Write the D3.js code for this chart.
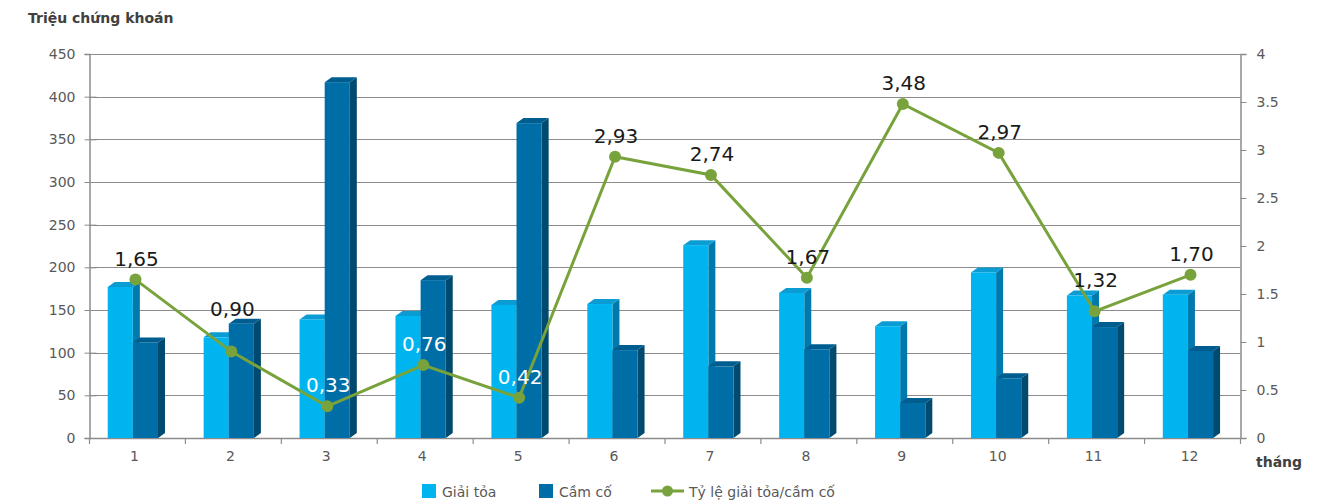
<!DOCTYPE html>
<html>
<head>
<meta charset="utf-8">
<script src="https://cdn.jsdelivr.net/npm/d3@7"></script>
<style>
  html, body { margin: 0; padding: 0; background: #fff; }
  svg { display: block; font-family: "DejaVu Sans", sans-serif; }
</style>
</head>
<body>
<svg id="chart" width="1341" height="504"></svg>
<script>
const months = ["1","2","3","4","5","6","7","8","9","10","11","12"];
const giaiToa = [177, 118, 139, 143, 156, 157, 226, 170, 131, 194, 167, 168];
const camCo = [112, 134, 417, 185, 369, 103, 84, 104, 41, 70, 130, 102];
const tyLe = [1.65, 0.90, 0.33, 0.76, 0.42, 2.93, 2.74, 1.67, 3.48, 2.97, 1.32, 1.70];
const tyLeLabels = ["1,65","0,90","0,33","0,76","0,42","2,93","2,74","1,67","3,48","2,97","1,32","1,70"];
const leftTicks = [0, 50, 100, 150, 200, 250, 300, 350, 400, 450];
const rightTicks = [0, 0.5, 1, 1.5, 2, 2.5, 3, 3.5, 4];
const rightTickLabels = ["0","0.5","1","1.5","2","2.5","3","3.5","4"];
const seriesNames = ["Giải tỏa", "Cầm cố", "Tỷ lệ giải tỏa/cầm cố"];

const svg = d3.select("#chart");
const L = 89.5, R = 1240.5, T = 54, B = 438;
const x = d3.scaleBand().domain(months).range([L, R]).padding(0);
const y = d3.scaleLinear().domain([0, 450]).range([B, T]);
const y2 = d3.scaleLinear().domain([0, 4]).range([B, T]);

const gridColor = "#8c8c8c", axisColor = "#8c8c8c", textColor = "#595959";

// gridlines
svg.append("g").selectAll("line").data(leftTicks.filter(d => d > 0)).join("line")
  .attr("x1", L).attr("x2", R)
  .attr("y1", d => Math.round(y(d)) + 0.5).attr("y2", d => Math.round(y(d)) + 0.5)
  .attr("stroke", gridColor).attr("stroke-width", 1);

// left axis
const leftAxis = d3.axisLeft(y).tickValues(leftTicks).tickSize(5).tickPadding(9);
const gl = svg.append("g").attr("transform", `translate(${L},0)`).call(leftAxis);
gl.select(".domain").attr("stroke", axisColor).attr("stroke-width", 1.5);
gl.selectAll(".tick line").attr("stroke", axisColor).attr("x2", 7).attr("x1", -5);
gl.selectAll(".tick text").attr("fill", textColor).style("font-size", "14px").style("font-family", "DejaVu Sans, sans-serif");

// right axis
const rightAxis = d3.axisRight(y2).tickValues(rightTicks).tickFormat((d, i) => rightTickLabels[i]).tickSize(6).tickPadding(10);
const gr = svg.append("g").attr("transform", `translate(${R},0)`).call(rightAxis);
gr.select(".domain").attr("stroke", axisColor).attr("stroke-width", 1.5);
gr.selectAll(".tick line").attr("stroke", axisColor);
gr.selectAll(".tick text").attr("fill", textColor).style("font-size", "14px").style("font-family", "DejaVu Sans, sans-serif");

// bottom axis
const bw = x.bandwidth();
svg.append("line").attr("x1", L).attr("x2", R).attr("y1", B + 0.5).attr("y2", B + 0.5)
  .attr("stroke", axisColor).attr("stroke-width", 1.5);
const bounds = d3.range(months.length + 1).map(i => L + i * bw);
svg.append("g").selectAll("line").data(bounds).join("line")
  .attr("x1", d => d).attr("x2", d => d).attr("y1", B).attr("y2", B + 6)
  .attr("stroke", axisColor).attr("stroke-width", 1.2);
svg.append("g").selectAll("text").data(months).join("text")
  .attr("x", d => x(d) + bw / 2 - 3).attr("y", B + 23)
  .attr("text-anchor", "middle").attr("fill", textColor)
  .style("font-size", "14px").text(d => d);

// 3D bars
const barW = bw * 0.262, off = bw * 0.19, dx = 7, dy = -5;
const palettes = [
  { front: "#00b5ef", top: "#0a9cd3", side: "#0079ad" },
  { front: "#006ea6", top: "#005d90", side: "#00496f" }
];
function drawBar(g, x0, val, pal) {
  const yt = y(val), w = barW;
  g.append("path").attr("d", `M${x0 + w},${yt} L${x0 + w + dx},${yt + dy} L${x0 + w + dx},${B + dy} L${x0 + w},${B} Z`).attr("fill", pal.side);
  g.append("path").attr("d", `M${x0},${yt} L${x0 + dx},${yt + dy} L${x0 + w + dx},${yt + dy} L${x0 + w},${yt} Z`).attr("fill", pal.top);
  g.append("rect").attr("x", x0).attr("y", yt).attr("width", w).attr("height", B - yt).attr("fill", pal.front);
}
const gb = svg.append("g");
months.forEach((m, i) => {
  const x0 = x(m) + off;
  drawBar(gb, x0, giaiToa[i], palettes[0]);
  drawBar(gb, x0 + barW, camCo[i], palettes[1]);
});

// line
const lineColor = "#78a23c";
const px = m => x(m) + bw / 2 - 2;
svg.append("path").datum(tyLe)
  .attr("d", d3.line().x((d, i) => px(months[i])).y(d => y2(d)))
  .attr("fill", "none").attr("stroke", lineColor).attr("stroke-width", 3);
svg.append("g").selectAll("circle").data(tyLe).join("circle")
  .attr("cx", (d, i) => px(months[i])).attr("cy", d => y2(d)).attr("r", 6)
  .attr("fill", lineColor);

// data labels: placed above the point; white when sitting inside the bars,
// otherwise lifted clear of the taller bar's top when they would touch it
function labelInfo(d, i) {
  let c = y2(d) - 22;
  const lowTop = y(Math.min(giaiToa[i], camCo[i]));
  const highTop = y(Math.max(giaiToa[i], camCo[i])) + dy;
  if (c > lowTop) return { c, white: true };
  if (c + 9 > highTop) c = highTop - 11;
  return { c, white: false };
}
svg.append("g").selectAll("text").data(tyLe).join("text")
  .attr("x", (d, i) => px(months[i]) + 1).attr("y", (d, i) => labelInfo(d, i).c + 8)
  .attr("text-anchor", "middle").style("font-size", "20px")
  .attr("fill", (d, i) => labelInfo(d, i).white ? "#ffffff" : "#1a1a1a")
  .text((d, i) => tyLeLabels[i]);

// axis titles
svg.append("text").attr("x", 28).attr("y", 23).attr("fill", "#404040")
  .style("font-size", "14px").style("font-weight", "bold").text("Triệu chứng khoán");
svg.append("text").attr("x", 1256).attr("y", 467).attr("fill", "#404040")
  .style("font-size", "14px").style("font-weight", "bold").text("tháng");

// legend
const lg = svg.append("g");
lg.append("rect").attr("x", 422).attr("y", 484).attr("width", 14).attr("height", 14).attr("fill", palettes[0].front);
lg.append("text").attr("x", 442).attr("y", 497).attr("fill", textColor).style("font-size", "14px").text(seriesNames[0]);
lg.append("rect").attr("x", 539).attr("y", 484).attr("width", 14).attr("height", 14).attr("fill", palettes[1].front);
lg.append("text").attr("x", 559).attr("y", 497).attr("fill", textColor).style("font-size", "14px").text(seriesNames[1]);
lg.append("line").attr("x1", 651).attr("x2", 684).attr("y1", 491).attr("y2", 491).attr("stroke", lineColor).attr("stroke-width", 3);
lg.append("circle").attr("cx", 667.5).attr("cy", 491).attr("r", 5.5).attr("fill", lineColor);
lg.append("text").attr("x", 689).attr("y", 497).attr("fill", textColor).style("font-size", "14px").text(seriesNames[2]);
</script>
</body>
</html>
